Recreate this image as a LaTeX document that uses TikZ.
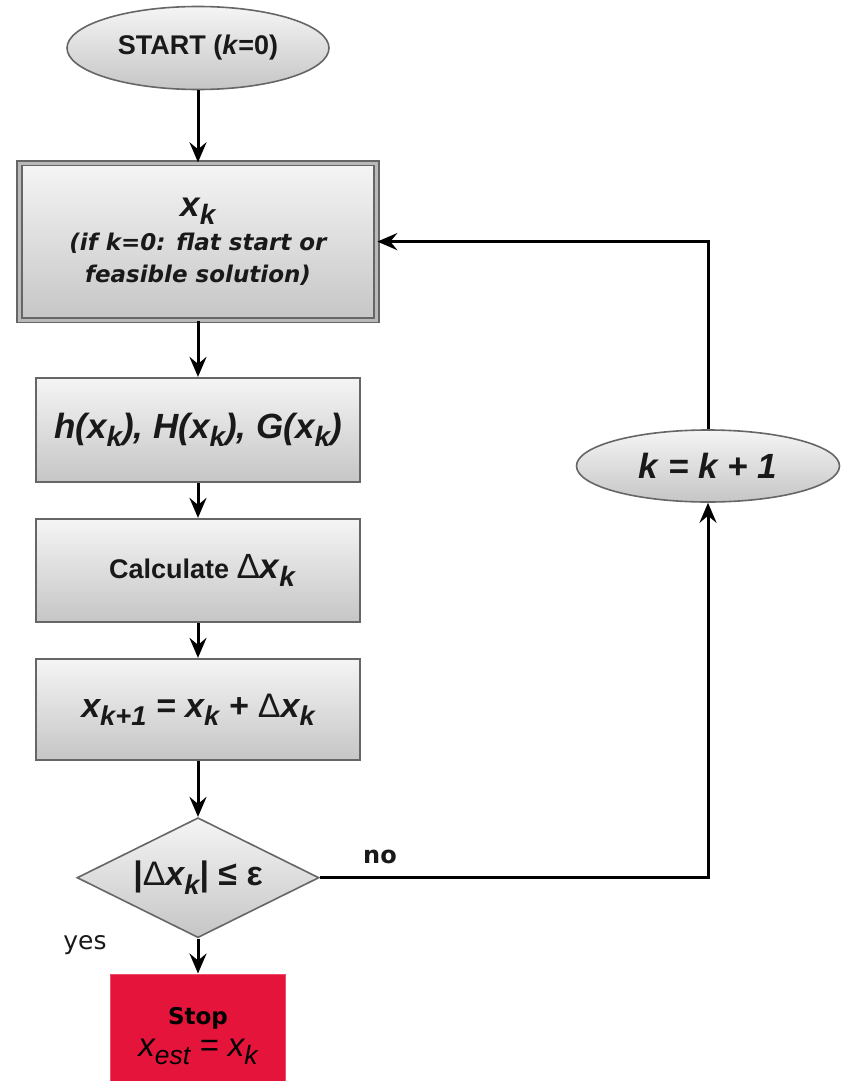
\documentclass[tikz,border=0pt]{standalone}
\usepackage{fontspec}
\setmainfont{Liberation Sans}
\newfontfamily\dejavu{DejaVu Sans}
\usepackage{graphicx}
\usetikzlibrary{positioning, shapes.geometric, arrows.meta}
\definecolor{stopred}{RGB}{228,20,58}
\newcommand{\sbs}[1]{\raisebox{-0.45ex}{\scalebox{0.8}{#1}}}
\newcommand{\dlt}{{\mdseries\upshape Δ}}

\begin{document}
\begin{tikzpicture}[x=1pt, y=-1pt,
        grey/.style={draw=gray!80!black, line width=2pt, top color=gray!8, bottom color=gray!45, text=black!90},
        box/.style={grey, rectangle, minimum width=324pt},
        oval/.style={grey, ellipse, line width=1.6pt},
        arr/.style={-{Stealth[length=20pt, width=17pt, inset=7pt]}, line width=3pt},
        lbl/.style={font=\dejavu\fontsize{25}{30}\selectfont, text=black!90}]

        \useasboundingbox (0,0) rectangle (846,1081);

        \node[oval, minimum width=262pt, minimum height=83pt, font=\fontsize{27}{32}\selectfont\bfseries] (S) at (198,48) {START (\textit{k}=0)};

        \node[box, minimum width=357pt, minimum height=157pt, double=gray!55, double distance=3pt, line width=1.6pt, align=center, below=72pt of S,
              font=\dejavu\fontsize{23}{32}\selectfont\bfseries\itshape] (X)
            {{\rmfamily\fontsize{35}{40}\selectfont x\sbs{k}}\\[2pt]
             (if k=0: flat start or\\
             feasible solution)};

        \node[box, minimum height=104pt, below=56pt of X, font=\fontsize{35}{40}\selectfont\bfseries\itshape] (H) {h(x\sbs{k}), H(x\sbs{k}), G(x\sbs{k})};
        \node[box, minimum height=103pt, below=35pt of H, font=\fontsize{27}{32}\selectfont\bfseries] (C) {\hspace{8pt}Calculate {\fontsize{35}{40}\selectfont\dlt\itshape x\sbs{k}}};
        \node[box, minimum height=101pt, below=35pt of C, font=\fontsize{34}{40}\selectfont\bfseries\itshape] (U) {x\sbs{k+1} = x\sbs{k} + \dlt x\sbs{k}};

        \node[grey, diamond, aspect=2, inner sep=0pt, line width=1.6pt, minimum width=242pt, minimum height=120pt, below=56pt of U, font=\fontsize{34}{38}\selectfont\bfseries] (T) {|\dlt\textit{x\sbs{k}}| ≤ ε};

        \node[rectangle, fill=stopred, draw=stopred!75!white, line width=1pt, minimum width=175pt, minimum height=124pt, align=center, below=35pt of T,
              font=\dejavu\fontsize{23}{30}\selectfont\bfseries] (E)
            {Stop\\[2pt]
             {\rmfamily\mdseries\fontsize{33}{36}\selectfont\itshape x\sbs{est} = x\sbs{k}}};

        \node[oval, minimum width=263pt, minimum height=72pt, font=\fontsize{35}{40}\selectfont\bfseries\itshape] (K) at (708,466) {k = k + 1};

        \draw[arr] (S) -- (X);
        \draw[arr] (X) -- (H);
        \draw[arr] (H) -- (C);
        \draw[arr] (C) -- (U);
        \draw[arr] (U) -- (T);
        \draw[arr] (T) -- (E);

        \draw[arr] (T.east) -| (K.south);
        \draw[arr] (K.north) |- (X.east);

        \node[lbl, font=\dejavu\bfseries\fontsize{24}{30}\selectfont] (no) at (380,857) {no};
        \node[lbl] (yes) at (85,945) {yes};

    \end{tikzpicture}
\end{document}
